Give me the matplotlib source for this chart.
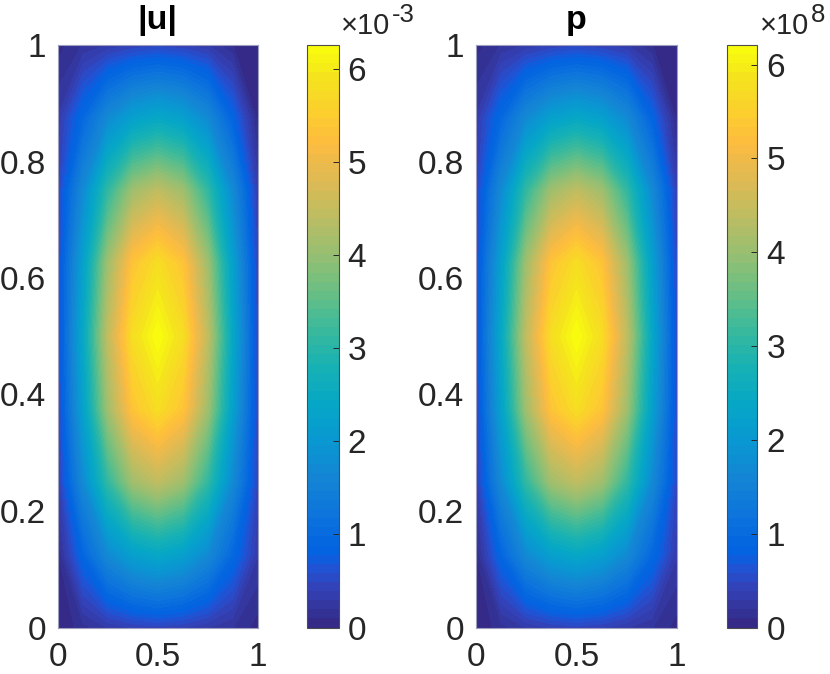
import numpy as np
import matplotlib
matplotlib.use("Agg")
import matplotlib.pyplot as plt
from matplotlib.colors import LinearSegmentedColormap, Normalize
from matplotlib.cm import ScalarMappable

plt.rcParams['font.family'] = ['Liberation Sans', 'DejaVu Sans']

# ---- data (grid nodes and estimated field values) ----
x_nodes = [0, 0.125, 0.25, 0.375, 0.5, 0.625, 0.75, 0.875, 1.0]
y_nodes = [0, 0.125, 0.25, 0.375, 0.5, 0.625, 0.75, 0.875, 1.0]

# |u| in units of 1e-3, rows from y=0 (bottom) to y=1 (top)
u_mag_e3 = [
    [0.00, 0.15, 0.30, 0.40, 0.45, 0.40, 0.30, 0.20, 0.05],
    [0.08, 0.90, 1.70, 2.20, 2.40, 2.20, 1.70, 0.95, 0.30],
    [0.35, 1.70, 3.10, 4.10, 4.45, 4.10, 3.10, 1.70, 0.45],
    [0.45, 2.20, 4.10, 5.35, 5.80, 5.35, 4.10, 2.20, 0.50],
    [0.50, 2.40, 4.45, 5.80, 6.26, 5.80, 4.45, 2.40, 0.50],
    [0.50, 2.20, 4.10, 5.35, 5.80, 5.35, 4.10, 2.20, 0.45],
    [0.45, 1.70, 3.10, 4.10, 4.45, 4.10, 3.10, 1.70, 0.35],
    [0.30, 0.95, 1.70, 2.20, 2.40, 2.20, 1.70, 0.85, 0.05],
    [0.05, 0.20, 0.30, 0.40, 0.45, 0.40, 0.30, 0.10, 0.00],
]

# p in units of 1e8
p_e8 = [
    [0.00, 0.15, 0.30, 0.40, 0.45, 0.40, 0.30, 0.20, 0.05],
    [0.08, 0.89, 1.69, 2.18, 2.38, 2.18, 1.69, 0.94, 0.30],
    [0.35, 1.69, 3.08, 4.07, 4.41, 4.07, 3.08, 1.69, 0.45],
    [0.45, 2.18, 4.07, 5.31, 5.75, 5.31, 4.07, 2.18, 0.50],
    [0.50, 2.38, 4.41, 5.75, 6.21, 5.75, 4.41, 2.38, 0.50],
    [0.50, 2.18, 4.07, 5.31, 5.75, 5.31, 4.07, 2.18, 0.45],
    [0.45, 1.69, 3.08, 4.07, 4.41, 4.07, 3.08, 1.69, 0.35],
    [0.30, 0.94, 1.69, 2.18, 2.38, 2.18, 1.69, 0.84, 0.05],
    [0.05, 0.20, 0.30, 0.40, 0.45, 0.40, 0.30, 0.10, 0.00],
]

titles = ['|u|', 'p']
exponents = ['-3', '8']
x_ticks = [0, 0.5, 1]
x_ticklabels = ['0', '0.5', '1']
y_ticks = [0, 0.2, 0.4, 0.6, 0.8, 1]
y_ticklabels = ['0', '0.2', '0.4', '0.6', '0.8', '1']
cbar_ticks = [0, 1, 2, 3, 4, 5, 6]

# ---- parula colormap (64 levels) ----
_par = [
    (1, (0.2081, 0.1663, 0.5292)), (5, (0.1959, 0.2645, 0.7279)),
    (7, (0.1253, 0.3242, 0.8303)), (8, (0.0591, 0.3598, 0.8683)),
    (9, (0.0117, 0.3875, 0.8820)), (13, (0.0498, 0.4586, 0.8641)),
    (17, (0.0793, 0.5200, 0.8312)), (21, (0.0343, 0.5966, 0.8199)),
    (25, (0.0228, 0.6535, 0.7768)), (29, (0.0843, 0.6928, 0.7062)),
    (33, (0.2178, 0.7250, 0.6193)), (37, (0.3953, 0.7459, 0.5244)),
    (41, (0.5709, 0.7485, 0.4494)), (45, (0.7184, 0.7411, 0.3905)),
    (49, (0.8507, 0.7299, 0.3360)), (53, (0.9739, 0.7314, 0.2666)),
    (54, (0.9938, 0.7455, 0.2403)), (57, (0.9880, 0.8066, 0.1794)),
    (61, (0.9589, 0.8949, 0.1132)), (64, (0.9763, 0.9831, 0.0538)),
]
parula = LinearSegmentedColormap.from_list(
    'parula', [((r - 1) / 63.0, c) for r, c in _par], N=64)

W, H = 830, 674
fig = plt.figure(figsize=(W / 100, H / 100), dpi=100)

tick_col = (0.15, 0.15, 0.15)
fs = 24

panels = [
    dict(data=u_mag_e3, ax=(58, 257.5), cax=(307.3, 338.7), offx=341),
    dict(data=p_e8, ax=(476, 677), cax=(727.3, 757.3), offx=760),
]
top_px, bot_px = 45, 627.5

X, Y = np.meshgrid(x_nodes, y_nodes)
for i, pn in enumerate(panels):
    Z = np.array(pn['data'])
    vmax = Z.max()
    x0, x1 = pn['ax']
    ax = fig.add_axes([x0 / W, (H - bot_px) / H, (x1 - x0) / W, (bot_px - top_px) / H])
    levels = np.linspace(0, vmax, 65)
    ax.contourf(X, Y, Z, levels=levels, cmap=parula, vmin=0, vmax=vmax,
                antialiased=False)
    ax.set_xlim(0, 1)
    ax.set_ylim(0, 1)
    ax.set_xticks(x_ticks)
    ax.set_xticklabels(x_ticklabels)
    ax.set_yticks(y_ticks)
    ax.set_yticklabels(y_ticklabels)
    ax.tick_params(axis='x', length=0, pad=10.5, labelsize=fs, colors=tick_col)
    ax.tick_params(axis='y', length=0, pad=8.5, labelsize=fs, colors=tick_col)
    for s in ax.spines.values():
        s.set_color((0.62, 0.62, 0.75))
        s.set_linewidth(0.8)
    ax.set_title(titles[i], fontsize=24.5, fontweight='bold', pad=11.5)

    c0, c1 = pn['cax']
    cax = fig.add_axes([c0 / W, (H - bot_px) / H, (c1 - c0) / W, (bot_px - top_px) / H])
    sm = ScalarMappable(norm=Normalize(0, vmax), cmap=parula)
    cb = fig.colorbar(sm, cax=cax, ticks=cbar_ticks)
    cb.ax.tick_params(direction='in', length=4.5, width=0.7, colors=tick_col,
                      labelsize=fs, pad=6.5)
    cb.outline.set_edgecolor((0.3, 0.3, 0.3))
    cb.outline.set_linewidth(0.8)
    # MATLAB-style exponent label above the colorbar
    ox = pn['offx']
    fig.text(ox / W, (H - 34) / H, '\u00d710', fontsize=21, color=tick_col,
             ha='left', va='baseline')
    fig.text((ox + 51) / W, (H - 22) / H, exponents[i], fontsize=18.5,
             color=tick_col, ha='left', va='baseline')

fig.savefig('out.png', dpi=100)
